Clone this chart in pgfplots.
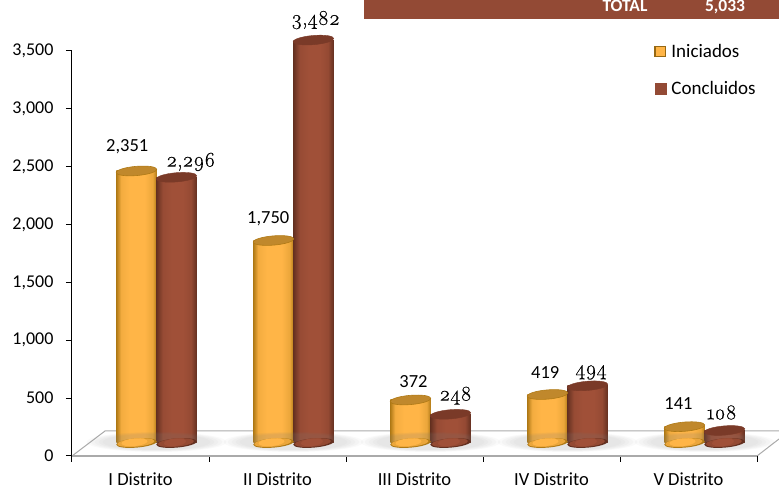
\documentclass[border=0pt]{standalone}
\usepackage{fontspec}
\setmainfont{Carlito}
\newfontfamily\oldfig[Numbers=OldStyle,FakeBold=0.4]{Latin Modern Roman}
\usepackage{pgfplots}
\usepackage{pgfplotstable}
\pgfplotsset{compat=1.18}

\definecolor{brick}{RGB}{147,74,53}
\definecolor{brickLight}{RGB}{160,80,56}
\definecolor{orangeMid}{RGB}{255,181,71}
\definecolor{orangeTop}{RGB}{192,136,44}
\definecolor{orangeEdge}{RGB}{176,122,22}
\definecolor{brownTop}{RGB}{122,58,40}
\definecolor{brownEdge}{RGB}{100,48,32}
\definecolor{floorGray}{RGB}{170,170,170}

\pgfdeclarehorizontalshading{cylorange}{100bp}{
  color(0bp)=(orangeEdge); color(25bp)=(orangeEdge); color(31bp)=(orangeMid!85!orangeEdge);
  color(42bp)=(orangeMid); color(60bp)=(orangeMid); color(70bp)=(orangeMid!75!orangeEdge);
  color(75bp)=(orangeEdge); color(100bp)=(orangeEdge)}
\pgfdeclarehorizontalshading{cylbrown}{100bp}{
  color(0bp)=(brownEdge); color(25bp)=(brownEdge); color(33bp)=(brickLight!85!brownEdge);
  color(44bp)=(brickLight); color(58bp)=(brickLight); color(68bp)=(brickLight!80!brownEdge);
  color(75bp)=(brownEdge); color(100bp)=(brownEdge)}

% tilted ellipse for the cylinder ends
\newcommand{\cylend}[1]{\pgfpathellipse{\pgfpointorigin}{\pgfpoint{#1pt}{1.7pt}}{\pgfpoint{-0.4pt}{4.6pt}}}
\pgfdeclareplotmark{cyltop}{\cylend{20.3}\pgfusepathqfillstroke}
\pgfdeclareplotmark{cylbaseO}{%
  \pgfsetfillcolor{orangeEdge}\cylend{20.3}\pgfusepathqfill
  \pgfsetfillcolor{orangeMid!75!orangeEdge}\pgfpathellipse{\pgfpoint{-0.6pt}{0.4pt}}{\pgfpoint{18.6pt}{1.6pt}}{\pgfpoint{-0.4pt}{4.1pt}}\pgfusepathqfill
  \pgfsetfillcolor{orangeMid}\pgfpathellipse{\pgfpoint{-2pt}{0.7pt}}{\pgfpoint{13pt}{1.2pt}}{\pgfpoint{-0.4pt}{3.8pt}}\pgfusepathqfill}
\pgfdeclareplotmark{cylbaseB}{%
  \pgfsetfillcolor{brownEdge}\cylend{20.3}\pgfusepathqfill
  \pgfsetfillcolor{brickLight!80!brownEdge}\pgfpathellipse{\pgfpoint{-0.6pt}{0.4pt}}{\pgfpoint{18pt}{1.6pt}}{\pgfpoint{-0.4pt}{4.1pt}}\pgfusepathqfill
  \pgfsetfillcolor{brickLight}\pgfpathellipse{\pgfpoint{-1.5pt}{0.7pt}}{\pgfpoint{11pt}{1.2pt}}{\pgfpoint{-0.4pt}{3.8pt}}\pgfusepathqfill}
\pgfdeclareplotmark{floorshadow}{%
  \pgfsetfillopacity{0.045}%
  \pgfpathellipse{\pgfpointorigin}{\pgfpoint{70pt}{0pt}}{\pgfpoint{0pt}{10pt}}\pgfusepathqfill
  \pgfpathellipse{\pgfpointorigin}{\pgfpoint{66pt}{0pt}}{\pgfpoint{0pt}{9.5pt}}\pgfusepathqfill
  \pgfpathellipse{\pgfpointorigin}{\pgfpoint{62pt}{0pt}}{\pgfpoint{0pt}{9pt}}\pgfusepathqfill
  \pgfpathellipse{\pgfpointorigin}{\pgfpoint{58pt}{0pt}}{\pgfpoint{0pt}{8.5pt}}\pgfusepathqfill
  \pgfpathellipse{\pgfpointorigin}{\pgfpoint{54pt}{0pt}}{\pgfpoint{0pt}{8pt}}\pgfusepathqfill}

% dx, dy: place of the value label, from the middle of the top of the bar
\pgfplotstableread{
x    y    dx    dy
0.5  2351 -9.3  24
1.5  1750 -5.3  21.5
2.5  372  3     18
3.5  419  -2.3  22.5
4.5  141  -6    22.7
}\iniciados
\pgfplotstableread{
x    y    dx    dy
0.5  2296 14.3  15.4
1.5  3482 2     20
2.5  248  5     18.6
3.5  494  3.5   13.5
4.5  108  -2.7  18
}\concluidos

\begin{document}
\begin{tikzpicture}[x=1pt,y=1pt]
\useasboundingbox (0,0) rectangle (779,489);
% header band
\fill[brick] (364,470) rectangle (779,489);
\node[text=white,font=\fontsize{17.5}{19}\selectfont\bfseries,anchor=base] at (625,477) {TOTAL};
\node[text=white,font=\fontsize{17.5}{19}\selectfont\bfseries,anchor=base] at (725,477) {5,033};
% floor of the 3D box
\draw[floorGray,line width=1pt] (72,33) -- (105,58) -- (779,58);
\draw[floorGray,line width=1pt] (757,33) -- (779,50);

\begin{axis}[
    at={(72pt,33pt)}, anchor=south west,
    scale only axis, width=685pt, height=405pt,
    xmin=0, xmax=5, ymin=0, ymax=3500,
    clip=false,
    axis lines=left,
    axis line style={-},
    x axis line style={floorGray,line width=1.4pt},
    y axis line style={black,line width=1pt},
    xtick={0,1,2,3,4,5},
    x tick label as interval,
    xticklabels={I Distrito,II Distrito,III Distrito,IV Distrito,V Distrito},
    ytick={0,500,1000,1500,2000,2500,3000,3500},
    tick align=outside,
    major tick length=6pt,
    tick style={black,line width=1pt},
    scaled y ticks=false,
    /pgf/number format/.cd, 1000 sep={,}, assume math mode=true,
    /pgfplots/.cd,
    xticklabel style={yshift=-10pt,font=\fontsize{18.5}{20}\selectfont,inner sep=1pt},
    yticklabel style={xshift=-9pt,font=\fontsize{18}{20}\selectfont},
    nodes near coords style={anchor=center,xshift=\dx pt,yshift=\dy pt,
      font=\fontsize{18.5}{20}\selectfont,inner sep=0pt},
    legend style={at={(582pt,414pt)},anchor=north west,draw=none,fill=none,
      inner sep=0pt,row sep=18pt,font=\fontsize{19}{20}\selectfont},
    legend cell align=left,
]
% shadows on the floor
\addplot[forget plot,only marks,mark=floorshadow,mark options={fill=gray},xshift=16pt,yshift=14pt]
  coordinates {(0.5,0)(1.5,0)(2.5,0)(3.5,0)(4.5,0)};

% each bar is its own plot, so that each gets the whole shading
\pgfplotsinvokeforeach{0.5,1.5,2.5,3.5,4.5}{
  % Iniciados
  \addplot[forget plot,only marks,mark=cylbaseO,xshift=-4pt,yshift=13pt]
    coordinates {(#1,0)};
  \addplot[forget plot,ybar,bar width=40.5pt,bar shift=-4pt,draw=none,shading=cylorange,yshift=13pt,
      restrict x to domain=#1:#1,
      visualization depends on={\thisrow{dx}-4\as\dx},
      visualization depends on={\thisrow{dy}\as\dy},
      nodes near coords]
    table[x=x,y=y] {\iniciados};
  \addplot[forget plot,only marks,mark=cyltop,mark options={fill=orangeTop,draw=orangeEdge,line width=0.6pt},xshift=-4pt,yshift=13pt,
      restrict x to domain=#1:#1]
    table[x=x,y=y] {\iniciados};
  % Concluidos
  \addplot[forget plot,only marks,mark=cylbaseB,xshift=36pt,yshift=13pt]
    coordinates {(#1,0)};
  \addplot[forget plot,ybar,bar width=40.5pt,bar shift=36pt,draw=none,shading=cylbrown,yshift=13pt,
      restrict x to domain=#1:#1,
      visualization depends on={\thisrow{dx}+36\as\dx},
      visualization depends on={\thisrow{dy}\as\dy},
      nodes near coords,
      every node near coord/.append style={font=\fontsize{21}{23}\selectfont\oldfig}]
    table[x=x,y=y] {\concluidos};
  \addplot[forget plot,only marks,mark=cyltop,mark options={fill=brownTop,draw=brownTop,line width=0.4pt},xshift=36pt,yshift=13pt,
      restrict x to domain=#1:#1]
    table[x=x,y=y] {\concluidos};
}

\addlegendimage{legend image code/.code={\draw[fill=orangeMid,draw=orangeEdge!85!black,line width=1.6pt] (0.8pt,-5pt) rectangle (11.2pt,5pt);}}
\addlegendentry{\hspace{3pt}Iniciados}
\addlegendimage{legend image code/.code={\fill[brick] (1pt,-5.5pt) rectangle (12pt,5.5pt);}}
\addlegendentry{\hspace{3pt}Concluidos}
\end{axis}
\end{tikzpicture}
\end{document}
